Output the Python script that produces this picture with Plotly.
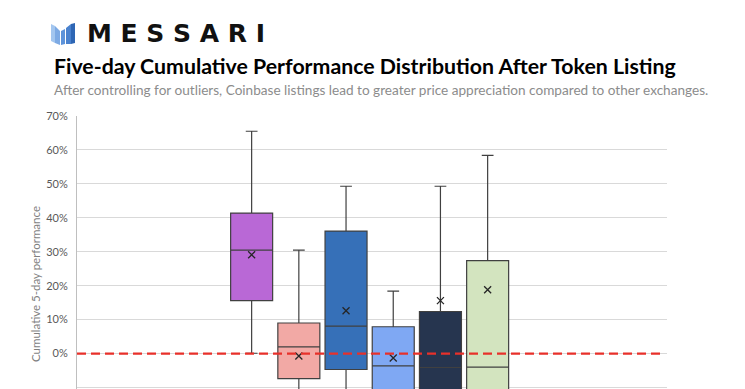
import plotly.graph_objects as go

# ---- data (values below -10% are estimated, they are cropped) ----
groups = ["Group 1", "Group 2", "Group 3", "Group 4", "Group 5", "Group 6"]
upper_whisker = [0.655, 0.305, 0.493, 0.184, 0.493, 0.584]
q3_values = [0.414, 0.090, 0.361, 0.079, 0.124, 0.274]
median_values = [0.305, 0.020, 0.081, -0.036, -0.041, -0.040]
q1_values = [0.156, -0.074, -0.047, -0.150, -0.180, -0.200]
lower_whisker = [0.001, -0.200, -0.250, -0.300, -0.320, -0.350]
mean_values = [0.291, -0.007, 0.126, -0.013, 0.156, 0.188]
box_colors = ["#B968D6", "#F2A9A5", "#3670B8", "#7FA8F3", "#26354F", "#D3E4BF"]
y_ticks = [-0.1, 0.0, 0.1, 0.2, 0.3, 0.4, 0.5, 0.6, 0.7]

W, H = 745, 389
ML = 77
MT = 116
PW = 667 - 77
PH = 389 - 116
MR = W - ML - PW
MB = H - MT - PH


def px(x):
    return (x - ML) / PW


def py(y):
    return 1 - (y - MT) / PH


fig = go.Figure()

for g, uw, q3, med, q1, lw, col in zip(groups, upper_whisker, q3_values,
                                       median_values, q1_values, lower_whisker,
                                       box_colors):
    fig.add_trace(go.Box(
        x=[g], q1=[q1], median=[med], q3=[q3],
        lowerfence=[lw], upperfence=[uw],
        fillcolor=col,
        line=dict(color="#404040", width=1.2),
        width=0.89, whiskerwidth=0.28,
        boxpoints=False, showlegend=False, name=g,
    ))

fig.add_trace(go.Scatter(
    x=groups, y=mean_values, mode="markers",
    marker=dict(symbol="x-thin", size=7, line=dict(color="#262626", width=1.3)),
    showlegend=False, hoverinfo="skip",
))

# zero reference line
fig.add_shape(type="line", xref="paper", yref="y", x0=0, x1=px(661), y0=0, y1=0,
              line=dict(color="#E8302A", width=2.2, dash="9px,5px"), layer="above")


# logo icon
def poly(points, color):
    path = "M " + " L ".join(f"{px(a):.5f},{py(b):.5f}" for a, b in points) + " Z"
    fig.add_shape(type="path", xref="paper", yref="paper", path=path,
                  fillcolor=color, line=dict(width=0), layer="above")


poly([(51, 24), (55, 26), (55, 43), (51, 41)], "#A3C6EF")
poly([(55, 26), (60, 31), (60, 45), (55, 43)], "#7DAAE4")
poly([(61, 31), (65, 29), (65, 44), (61, 45)], "#5D93DA")
poly([(66, 28), (71, 24), (71, 44), (66, 44)], "#4A82CE")
poly([(71, 24), (75, 23), (75, 43), (71, 44)], "#2E66B4")

fig.add_annotation(x=px(85), y=py(34), xref="paper", yref="paper",
                   text="<b>M E S S A R I</b>", showarrow=False,
                   xanchor="left", yanchor="middle",
                   font=dict(family="DejaVu Sans", size=25, color="#111111"))

fig.add_annotation(x=px(52), y=py(66), xref="paper", yref="paper",
                   text="<b>Five-day Cumulative Performance Distribution After Token Listing</b>",
                   showarrow=False, xanchor="left", yanchor="middle",
                   font=dict(family="Lato", size=21.3, color="#000000"))

fig.add_annotation(x=px(52), y=py(90), xref="paper", yref="paper",
                   text="After controlling for outliers, Coinbase listings lead to greater price appreciation compared to other exchanges.",
                   showarrow=False, xanchor="left", yanchor="middle",
                   font=dict(family="Lato", size=13.6, color="#8C8C8C"))

fig.add_annotation(x=px(35), y=py(284), xref="paper", yref="paper",
                   text="Cumulative 5-day performance", textangle=-90,
                   showarrow=False, xanchor="center", yanchor="middle",
                   font=dict(family="Lato", size=11.5, color="#7F7F7F"))

fig.update_layout(
    width=W, height=H,
    margin=dict(l=ML, r=MR, t=MT, b=MB, pad=0),
    paper_bgcolor="white", plot_bgcolor="white",
    showlegend=False,
    xaxis=dict(type="category", range=[-3.7, 8.8], showticklabels=False,
               showgrid=False, zeroline=False, showline=False, ticks=""),
    yaxis=dict(range=[-0.1044, 0.70], tickvals=y_ticks, tickformat=".0%",
               gridcolor="#D9D9D9", gridwidth=1, zeroline=False,
               showline=True, linecolor="#BFBFBF", linewidth=1, ticks="",
               ticklabelstandoff=6,
               tickfont=dict(family="Lato", size=11, color="#595959")),
)

fig.write_html(
    "out.html",
    config={"displayModeBar": False},
    post_script="document.body.style.margin='0';document.body.style.overflow='hidden';",
)
